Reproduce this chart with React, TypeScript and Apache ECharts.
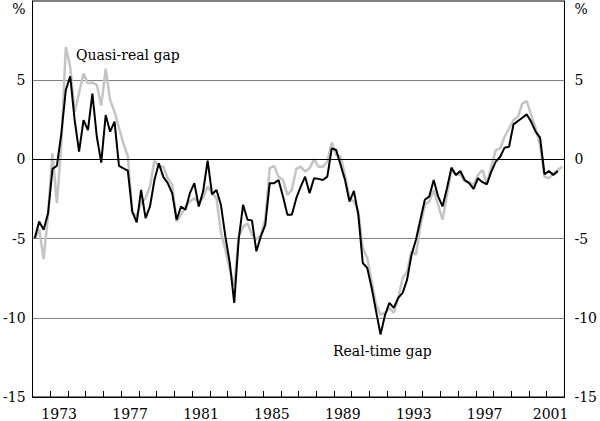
import React, { useEffect, useRef } from "react";
import * as echarts from "echarts";

// Quarterly data starting 1972 Q1 (per cent)
const START_YEAR = 1972;

const realTimeGap = [
  -4.97, -3.92, -4.44, -3.4, -0.6, -0.4, 1.64, 4.37, 5.25, 2.48,
  0.49, 2.48, 1.85, 4.16, 1.43, -0.2, 2.8, 1.75, 2.38, -0.41,
  -0.56, -0.71, -3.3, -3.98, -1.93, -3.71, -2.97, -1.3, -0.25, -1.1,
  -1.5, -2.13, -3.81, -2.97, -3.18, -2.13, -1.5, -2.97, -2.0, -0.08,
  -2.2, -1.93, -2.87, -4.86, -6.54, -9.06, -5.07, -2.87, -3.81, -3.85,
  -5.8, -4.86, -4.13, -1.5, -1.5, -1.3, -2.34, -3.5, -3.5, -2.45,
  -1.72, -1.09, -2.13, -1.19, -1.23, -1.3, -1.09, 0.7, 0.59, -0.35,
  -1.3, -2.66, -1.99, -3.5, -6.54, -6.85, -8.1, -9.58, -11.05, -9.85,
  -9.06, -9.37, -8.74, -8.43, -7.59, -6.02, -5.07, -3.81, -2.55, -2.34,
  -1.3, -2.34, -2.97, -1.82, -0.52, -0.98, -0.73, -1.3, -1.5, -1.86,
  -1.19, -1.44, -1.57, -0.77, -0.14, 0.17, 0.74, 0.8, 2.21, 2.42,
  2.63, 2.84, 2.37, 1.75, 1.37, -0.94, -0.73, -0.98, -0.73,
];

const quasiRealGap = [
  -4.97, -4.4, -6.3, -3.5, 0.38, -2.76, 1.0, 7.09, 5.83, 3.0,
  4.2, 5.42, 4.8, 4.85, 4.7, 3.4, 5.73, 3.74, 3.0, 2.0,
  1.0, 0.2, -3.4, -3.56, -2.76, -2.45, -1.71, -0.08, -0.46, -0.46,
  -1.19, -1.61, -3.92, -3.5, -2.97, -2.66, -2.45, -2.76, -2.4, -1.71,
  -2.13, -2.45, -4.6, -5.7, -6.96, -8.0, -4.86, -4.27, -4.02, -4.76,
  -5.07, -4.76, -3.81, -0.56, -0.41, -1.09, -1.3, -2.24, -1.93, -0.6,
  -0.46, -0.77, -0.56, 0.02, -0.46, -0.46, -0.15, 1.07, 0.28, 0.17,
  -0.98, -2.45, -2.66, -3.29, -5.6, -6.23, -7.69, -9.16, -9.79, -9.7,
  -9.37, -9.69, -8.74, -7.49, -7.07, -5.8, -6.02, -4.23, -2.87, -2.66,
  -1.93, -2.87, -3.81, -2.24, -0.67, -0.98, -0.94, -1.4, -1.44, -1.61,
  -0.98, -0.67, -1.51, -0.46, 0.59, 0.7, 1.43, 1.95, 2.48, 2.69,
  3.53, 3.68, 2.79, 1.95, 0.91, -1.08, -1.19, -0.88, -0.67, -0.46,
];

const yearCategories = Array.from({ length: 30 }, (_, i) => String(START_YEAR + i));
const labelledYears = ["1973", "1977", "1981", "1985", "1989", "1993", "1997", "2001"];

const FONT = "DejaVu Serif";

const toPairs = (arr: number[]) => arr.map((v, i) => [START_YEAR + (i + 0.5) / 4, v]);

export default function App() {
  const ref = useRef<HTMLDivElement>(null);

  useEffect(() => {
    document.body.style.margin = "0";
    if (!ref.current) return;
    const chart = echarts.init(ref.current, undefined, { renderer: "svg" });

    const yLabel = (v: number) => (v === 10 ? "{p|%}" : String(v));
    const rich = { p: { fontFamily: FONT, fontSize: 14, color: "#000", padding: [16, 0, 0, 0] } };

    chart.setOption({
      animation: false,
      backgroundColor: "#fff",
      textStyle: { fontFamily: FONT },
      grid: {
        left: 29,
        right: 32,
        top: 1,
        bottom: 23,
        show: true,
        borderColor: "#000",
        borderWidth: 1,
      },
      xAxis: [
        {
          type: "value",
          min: 1972,
          max: 2002,
          interval: 1,
          axisLine: { show: true, onZero: false, lineStyle: { color: "#000", width: 1 } },
          axisTick: { show: true, inside: true, length: 6, lineStyle: { color: "#000" } },
          axisLabel: { show: false },
          splitLine: { show: false },
        },
        {
          type: "category",
          data: yearCategories,
          boundaryGap: true,
          position: "bottom",
          axisLine: { show: false, onZero: false },
          axisTick: { show: false },
          splitLine: { show: false },
          axisLabel: {
            interval: (_: number, value: string) => labelledYears.includes(value),
            margin: 10,
            fontFamily: FONT,
            fontSize: 14,
            color: "#000",
            formatter: (v: string) => (v === "2001" ? "{e|2001}" : v),
            rich: { e: { fontFamily: FONT, fontSize: 14, color: "#000", padding: [0, 10, 0, 0] } },
          },
        },
      ],
      yAxis: [
        {
          type: "value",
          min: -15,
          max: 10,
          interval: 5,
          position: "left",
          axisLine: { show: true, onZero: false, lineStyle: { color: "#000" } },
          axisTick: { show: false },
          axisLabel: { margin: 7, fontFamily: FONT, fontSize: 14, color: "#000", formatter: yLabel, rich },
          splitLine: { show: true, lineStyle: { color: "#808080", width: 1 } },
        },
        {
          type: "value",
          min: -15,
          max: 10,
          interval: 5,
          position: "right",
          axisLine: { show: true, onZero: false, lineStyle: { color: "#000" } },
          axisTick: { show: false },
          axisLabel: { margin: 10, fontFamily: FONT, fontSize: 14, color: "#000", formatter: yLabel, rich },
          splitLine: { show: false },
        },
      ],
      series: [
        {
          name: "Quasi-real gap",
          type: "line",
          xAxisIndex: 0,
          yAxisIndex: 0,
          data: toPairs(quasiRealGap),
          symbol: "none",
          lineStyle: { color: "#c4c4c4", width: 2.5 },
          z: 2,
          markLine: {
            silent: true,
            symbol: "none",
            label: { show: false },
            lineStyle: { color: "#000", width: 1, type: "solid" },
            data: [{ yAxis: 0 }],
          },
        },
        {
          name: "Real-time gap",
          type: "line",
          xAxisIndex: 0,
          yAxisIndex: 0,
          data: toPairs(realTimeGap),
          symbol: "none",
          lineStyle: { color: "#000", width: 2 },
          z: 3,
        },
      ],
      graphic: [
        {
          type: "text",
          left: 76,
          top: 48,
          style: { text: "Quasi-real gap", fontFamily: FONT, fontSize: 14, fill: "#000" },
        },
        {
          type: "text",
          left: 333,
          top: 344,
          style: { text: "Real-time gap", fontFamily: FONT, fontSize: 14, fill: "#000" },
        },
      ],
    });

    return () => chart.dispose();
  }, []);

  return <div ref={ref} style={{ width: 600, height: 421 }} />;
}
